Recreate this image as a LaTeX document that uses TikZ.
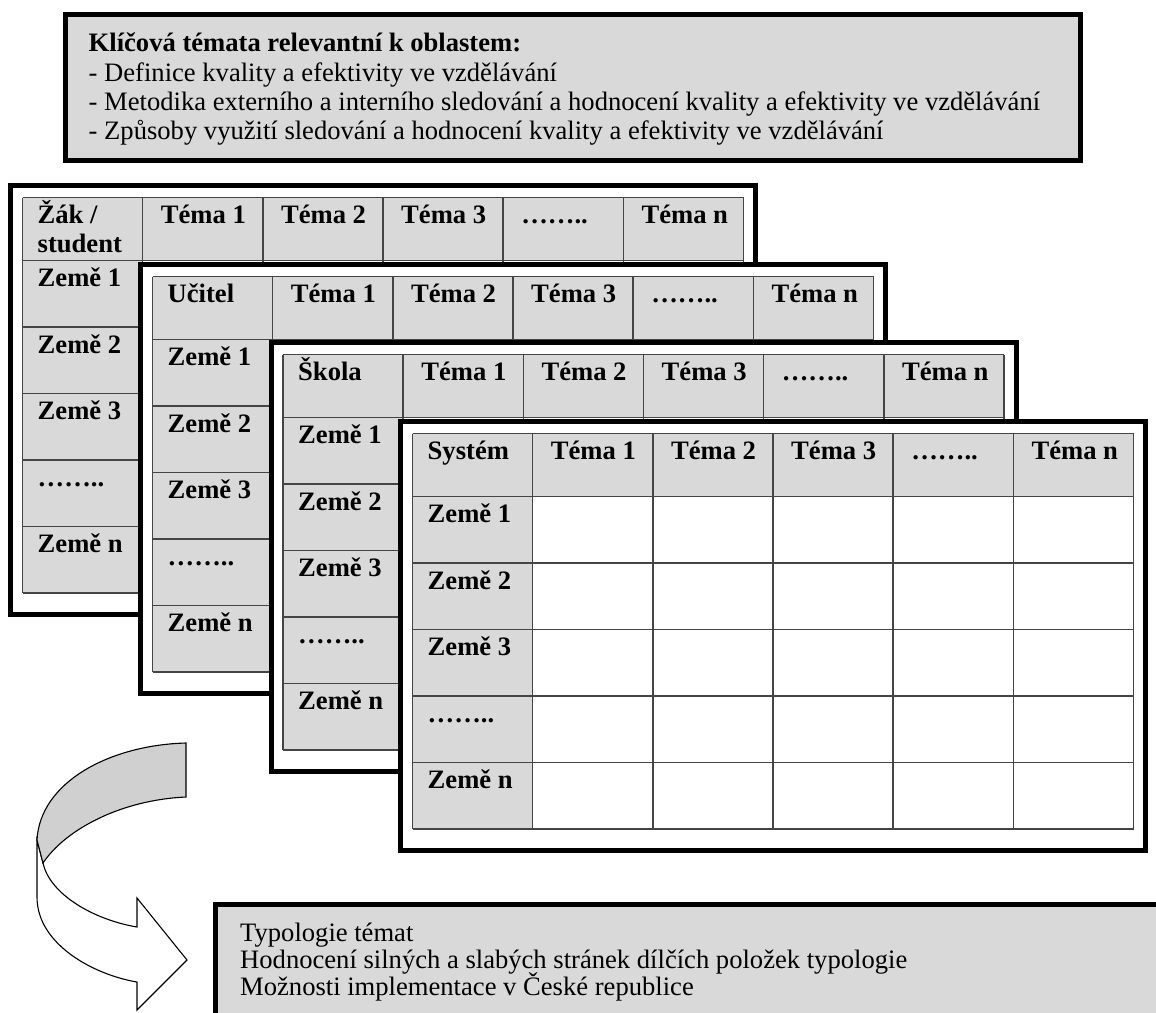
\documentclass[tikz,border=0pt]{standalone}
\usepackage{fontspec}
\setmainfont{Liberation Serif}
\definecolor{cellgray}{HTML}{D9D9D9}
\definecolor{gridcol}{HTML}{454545}
\definecolor{arrowgray}{HTML}{D0D0D0}
\tikzset{
  tframe/.style={draw=black, line width=5pt, fill=white},
  gridline/.style={draw=gridcol, line width=1.5pt},
  hdr/.style={font=\fontsize{26.6}{29}\selectfont\bfseries, anchor=base west, inner sep=0pt},
  txt/.style={font=\fontsize{26.6}{29}\selectfont, anchor=base west, inner sep=0pt},
  infobox/.style={draw=black, line width=5pt, fill=cellgray},
  arrowline/.style={draw=black, line width=1.1pt, line join=miter},
}
\newcommand{\drawtab}[4]{%
\begin{scope}[shift={(#2,#3)}]
  \path[tframe] (0,0) rectangle (745,429);
  \fill[cellgray] (12,12) rectangle (733,75);
  \fill[cellgray] (12,75) rectangle (132.17,407.5);
  \fill[white] (132.17,75) rectangle (733,407.5);
  \foreach \i in {0,...,6} \draw[gridline] ({12+\i*120.17},12) -- ({12+\i*120.17},407.5);
  \draw[gridline] (12,12) -- (733,12);
  \foreach \j in {0,...,5} \draw[gridline] (12,{75+\j*66.5}) -- (733,{75+\j*66.5});
  \node[hdr] (#1c0) at (27,38) {#4};
  \foreach \t [count=\k] in {Téma 1,Téma 2,Téma 3,……..,Téma n}
    \node[hdr] (#1h\k) at ({30+\k*120.17},38) {\t};
  \foreach \t [count=\k] in {Země 1,Země 2,Země 3,……..,Země n}
    \node[hdr] (#1r\k) at (27,{75+(\k-1)*66.5+26}) {\t};
\end{scope}}
\begin{document}
\begin{tikzpicture}[x=1pt,y=-1pt]
\useasboundingbox (0,0) rectangle (1156,1012);
\clip (0,0) rectangle (1156,1012);
\fill[white] (0,0) rectangle (1156,1012);
% top box
\path[infobox] (65.5,14.5) rectangle (1080.5,160.5);
\node[hdr] (ktitle) at (88.5,51.5) {Klíčová témata relevantní k oblastem:};
\node[txt] (k1) at (88.5,81) {- Definice kvality a efektivity ve vzdělávání};
\node[txt] (k2) at (88.5,110) {- Metodika externího a interního sledování a hodnocení kvality a efektivity ve vzdělávání};
\node[txt] (k3) at (88.5,139) {- Způsoby využití sledování a hodnocení kvality a efektivity ve vzdělávání};
% stacked tables
\drawtab{ta}{10.5}{185.5}{\parbox[t]{110pt}{Žák /\\student}}
\drawtab{tb}{140.5}{264.5}{Učitel}
\drawtab{tc}{271}{342.5}{Škola}
\drawtab{td}{400.5}{421.5}{Systém}
% curved arrow
\draw[arrowline, fill=white] (37,840) -- (37,897) .. controls (37,945) and (95,975) .. (137,982)
  -- (137,1010) -- (187,960) -- (137,898) -- (137,927)
  .. controls (95,920) and (50,895) .. (43,863) -- cycle;
\draw[arrowline, fill=arrowgray] (186,743) .. controls (110,745) and (40,782) .. (37,840)
  -- (43,863) .. controls (65,830) and (120,800) .. (186,797) -- cycle;
% bottom box
\path[infobox] (215.5,904.5) rectangle (1180,1040);
\node[txt] (b1) at (240,941) {Typologie témat};
\node[txt] (b2) at (240,968) {Hodnocení silných a slabých stránek dílčích položek typologie};
\node[txt] (b3) at (240,995) {Možnosti implementace v České republice};
\end{tikzpicture}
\end{document}
